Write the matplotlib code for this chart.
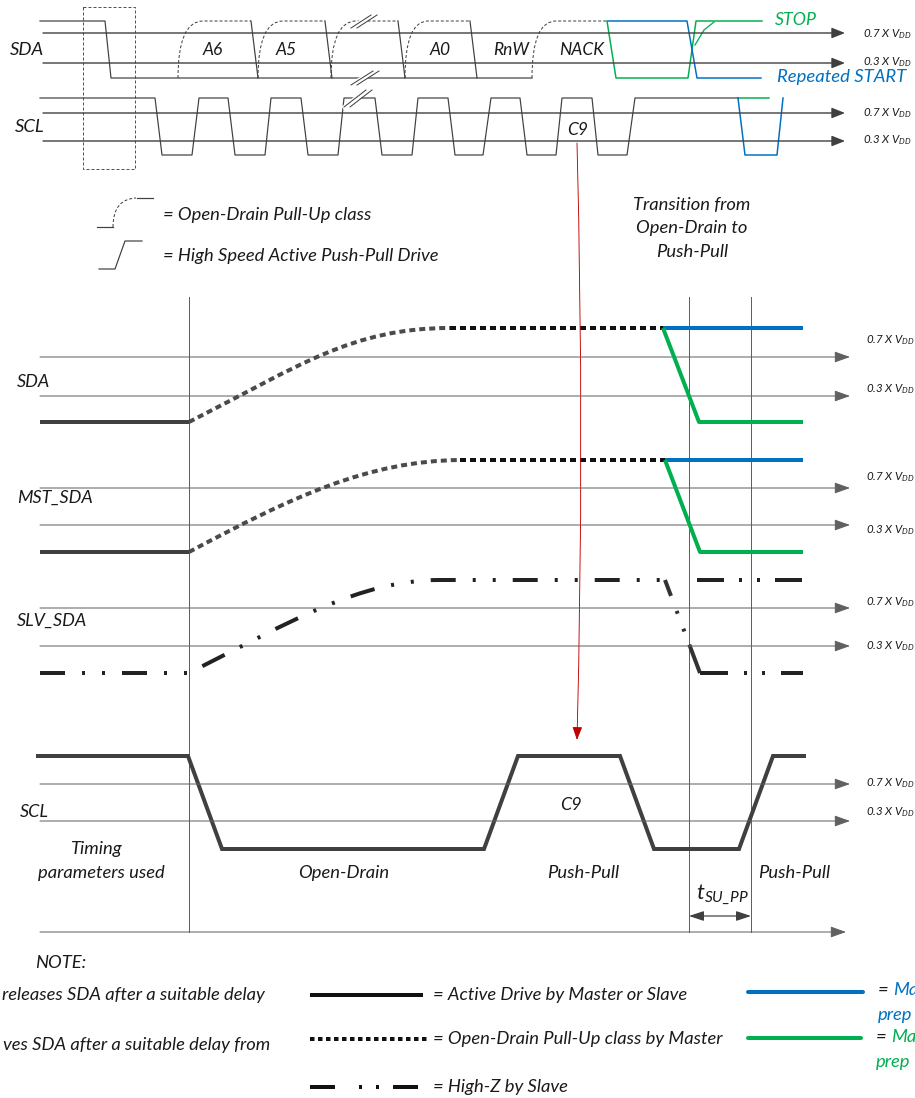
import matplotlib.pyplot as plt
from matplotlib.path import Path
from matplotlib.patches import PathPatch, Rectangle

plt.rcParams['font.family'] = ['Lato', 'DejaVu Sans']
plt.rcParams['font.style'] = 'italic'
plt.rcParams['mathtext.fontset'] = 'custom'
plt.rcParams['mathtext.it'] = 'Lato:italic'
plt.rcParams['mathtext.rm'] = 'Lato'
plt.rcParams['lines.scale_dashes'] = False

W, H = 915, 1098
PX = 0.72          # points per pixel (dpi 100)
GRAY = '#404040'
AXG = '#606060'
BLUE = '#0070C0'
GREEN = '#00B050'
RED = '#C00000'
VDD7 = '0.7 X $V_{DD}$'
VDD3 = '0.3 X $V_{DD}$'
FS = 13.2          # body text size

# ---------------- top overview (pixel rows / columns)
top_thr_y = [33, 63, 113, 141]
top_thr_lbl = [VDD7, VDD3, VDD7, VDD3]
top_lbl_y = [34, 62, 113, 140]

sda_x = [40, 105, 111, 532]
sda_y = [21, 21, 78, 78]
sda_fall_x = [251, 325, 398, 470]
od_rise_x = [178, 258, 331, 405, 532]
od_top_x = [203, 283, 356, 428, 556]
od_end_x = [251, 325, 398, 470, 607]
bit_names = ['A6', 'A5', 'A0', 'RnW', 'NACK']
bit_x = [213, 286, 440, 511, 582]

scl_x = [40, 155, 162, 192, 199, 228, 235, 265, 271, 301, 308, 338, 344, 375,
         382, 412, 418, 448, 455, 483, 491, 520, 527, 556, 562, 592, 598, 627,
         635, 738]
scl_y = [98, 98, 155, 155] * 7 + [98, 98]

stop_sda_x = [607, 616, 688, 696, 762]
stop_sda_y = [21, 78, 78, 21, 21]
rs_sda_x = [608, 687, 697, 761]
rs_sda_y = [21, 21, 78, 78]
rs_scl_x = [738, 745, 777, 783]
rs_scl_y = [98, 155, 155, 98]
stop_scl_x = [738, 769]
stop_scl_y = [98, 98]

# ---------------- detailed view
mid_thr_y = [357, 396, 488, 525, 608, 646, 784, 821]
mid_lbl_y = [340, 389, 477, 530, 602, 646, 783, 812]
mid_lbl = [VDD7, VDD3] * 4
vlines_x = [189, 689, 751]

sda_curve = [(189, 422), (299, 366), (352, 328), (450, 328)]
sda_flat_x = [450, 663]
mst_curve = [(189, 552), (292, 497), (368, 461), (460, 460)]
mst_flat_x = [460, 665]
slv_curve = [(189, 673), (290, 622), (360, 580), (440, 580)]

sda_blue = ([663, 803], [328, 328])
sda_green = ([663, 699, 803], [328, 422, 422])
mst_blue = ([665, 803], [460, 460])
mst_green = ([665, 700, 803], [460, 552, 552])
slv_fall = ([665, 700], [580, 673])
slv_low = ([700, 803], [673, 673])
slv_top = ([697, 803], [580, 580])

scl2_x = [38, 188, 222, 484, 518, 620, 654, 739, 773, 804]
scl2_y = [756, 756, 849, 849, 756, 756, 849, 849, 756, 756]

# ---------------- notes rows
note_rows = [995, 1039, 1087]
note_keys = ['= Active Drive by Master or Slave',
             '= Open-Drain Pull-Up class by Master',
             '= High-Z by Slave']

fig = plt.figure(figsize=(W / 100, H / 100), dpi=100)
ax = fig.add_axes([0, 0, 1, 1])
ax.set_xlim(0, W)
ax.set_ylim(H, 0)
ax.axis('off')


def dash(*d):
    return (0, tuple(v * PX for v in d))


def harrow(x0, x1, y, lw, color, hl=0.8, hw=0.32):
    ax.annotate('', xy=(x1, y), xytext=(x0, y),
                arrowprops=dict(arrowstyle=f'-|>,head_length={hl},head_width={hw}',
                                lw=lw * PX, color=color, shrinkA=0, shrinkB=0,
                                mutation_scale=10))


def path(verts, codes, color, lw, dashes=None, z=3):
    ls = '-' if dashes is None else dash(*dashes)
    ax.add_patch(PathPatch(Path(verts, codes), fill=False, edgecolor=color,
                           lw=lw * PX, linestyle=ls, zorder=z))


def txt(x, y, s, size=FS, color='#1a1a1a', ha='center', **kw):
    ax.text(x, y, s, fontsize=size, color=color, ha=ha, va='center', **kw)


# ===== top overview =====
for y, lb, ly in zip(top_thr_y, top_thr_lbl, top_lbl_y):
    harrow(43, 845, y, 1.4, GRAY)
    txt(863, ly, lb, 8.3, ha='left')

ax.plot(sda_x, sda_y, color=GRAY, lw=1.2 * PX)
for x in sda_fall_x:
    ax.plot([x, x + 7], [21, 78], color=GRAY, lw=1.2 * PX)
for xr, xt, xe in zip(od_rise_x, od_top_x, od_end_x):
    path([(xr, 78), (xr, 21), (xt, 21), (xe, 21)],
         [Path.MOVETO, Path.CURVE3, Path.CURVE3, Path.LINETO], GRAY, 1.0, (3, 2))
for b, x in zip(bit_names, bit_x):
    txt(x, 50, b, 12.5)

ax.plot(scl_x, scl_y, color=GRAY, lw=1.2 * PX)
ax.plot(stop_sda_x, stop_sda_y, color=GREEN, lw=1.5 * PX)
ax.plot(rs_sda_x, rs_sda_y, color=BLUE, lw=1.5 * PX)
ax.plot([695, 704, 714], [45, 30, 22], color=GREEN, lw=1.3 * PX)
ax.plot(stop_scl_x, stop_scl_y, color=GREEN, lw=1.5 * PX)
ax.plot(rs_scl_x, rs_scl_y, color=BLUE, lw=1.5 * PX)

# break marks
for (xa, ya, xb, yb) in [(355, 28, 375, 15), (355, 85, 377, 71), (348, 107, 370, 90)]:
    ax.plot([xa - 3, xb - 3], [ya, yb], color='white', lw=5 * PX, zorder=4)
    for d in (-4, 2):
        ax.plot([xa + d, xb + d], [ya, yb], color=GRAY, lw=1 * PX, zorder=5)

ax.add_patch(Rectangle((83, 7), 52, 162, fill=False, edgecolor=GRAY,
                       lw=0.9 * PX, linestyle=dash(3, 2)))
txt(10, 50, 'SDA', 13.3, ha='left')
txt(15, 127, 'SCL', 13.3, ha='left')
txt(578, 130, 'C9', 12.5)
txt(775, 20, 'STOP', 12.8, color=GREEN, ha='left')
txt(777, 77, 'Repeated START', 13.3, color=BLUE, ha='left')

# red pointer
ax.annotate('', xy=(577, 740), xytext=(577, 143),
            arrowprops=dict(arrowstyle='-|>,head_length=0.8,head_width=0.3',
                            color=RED, lw=0.9 * PX, shrinkA=0, shrinkB=0,
                            mutation_scale=10, connectionstyle='arc3,rad=-0.013'))

# key for edge shapes
ax.plot([97, 113], [227, 227], color=GRAY, lw=1.2 * PX)
path([(113, 227), (113, 199), (136, 198)], [Path.MOVETO, Path.CURVE3, Path.CURVE3],
     GRAY, 1.0, (3, 2))
ax.plot([137, 153], [198, 198], color=GRAY, lw=1.2 * PX)
ax.plot([99, 115, 125, 142], [269, 269, 241, 241], color=GRAY, lw=1.2 * PX)
txt(163, 215, '= Open-Drain Pull-Up class', ha='left')
txt(163, 256, '= High Speed Active Push-Pull Drive', ha='left')
for i, s in enumerate(['Transition from', 'Open-Drain to', 'Push-Pull']):
    txt(692, 205 + 23.5 * i, s)

# ===== detailed view =====
for x in vlines_x:
    ax.plot([x, x], [297, 932], color=AXG, lw=1 * PX, zorder=2)
for y, lb, ly in zip(mid_thr_y, mid_lbl, mid_lbl_y):
    harrow(40, 850, y, 1.0, AXG, hl=0.95, hw=0.34)
    txt(866, ly, lb, 8.3, ha='left')
harrow(40, 846, 932, 1.0, AXG, hl=0.95, hw=0.34)

LW = 4
for cur, flat_x, c_open in [(sda_curve, sda_flat_x, 422), (mst_curve, mst_flat_x, 552)]:
    ax.plot([40, 189], [c_open, c_open], color=GRAY, lw=LW * PX, solid_capstyle='butt')
    path(cur, [Path.MOVETO, Path.CURVE4, Path.CURVE4, Path.CURVE4], '#4a4a4a', LW, (6, 4))
    ax.plot(flat_x, [cur[-1][1]] * 2, color='#111111', lw=LW * PX, linestyle=dash(6, 4))
for (xs, ys), col in [(sda_blue, BLUE), (sda_green, GREEN), (mst_blue, BLUE), (mst_green, GREEN)]:
    ax.plot(xs, ys, color=col, lw=LW * PX, solid_capstyle='butt', zorder=4)

path([(40, 673), (189, 673)] + slv_curve[1:] + [(665, 580)],
     [Path.MOVETO, Path.LINETO, Path.CURVE4, Path.CURVE4, Path.CURVE4, Path.LINETO],
     '#222222', LW, (25, 17, 3, 17, 3, 17))
ax.plot(*slv_fall, color='#333333', lw=LW * PX, linestyle=dash(17, 16, 3, 16, 3, 14, 40, 10))
ax.plot(*slv_low, color='#222222', lw=LW * PX, linestyle=dash(28, 16, 3, 15, 3, 16))
ax.plot(*slv_top, color='#222222', lw=LW * PX, linestyle=dash(27, 15, 3, 15, 3, 15))

ax.plot(scl2_x, scl2_y, color=GRAY, lw=LW * PX, solid_joinstyle='miter')

txt(17, 382, 'SDA', 13, ha='left')
txt(17, 498, 'MST_SDA', 13, ha='left')
txt(17, 621, 'SLV_SDA', 13, ha='left')
txt(20, 812, 'SCL', 13, ha='left')
txt(571, 805, 'C9', 13)
txt(97, 849, 'Timing')
txt(101, 873, 'parameters used')
txt(344, 873, 'Open-Drain')
txt(583, 873, 'Push-Pull')
txt(794, 873, 'Push-Pull')
txt(722, 894, r'$\mathrm{t}_{SU\_PP}$', 16)
ax.annotate('', xy=(751, 916), xytext=(689, 916),
            arrowprops=dict(arrowstyle='<|-|>,head_length=0.9,head_width=0.3',
                            color=GRAY, lw=1.2 * PX, shrinkA=0, shrinkB=0,
                            mutation_scale=10))

# ===== notes / legend =====
txt(35, 963, 'NOTE:', ha='left')
txt(265, 995, 'releases SDA after a suitable delay', ha='right')
txt(270, 1045, 'ves SDA after a suitable delay from', ha='right')
r1, r2, r3 = note_rows
ax.plot([310, 423], [r1, r1], color='#111111', lw=LW * PX, solid_capstyle='butt')
ax.plot([310, 428], [r2, r2], color='#111111', lw=LW * PX, linestyle=dash(4.5, 3.5))
ax.plot([310, 420], [r3, r3], color='#111111', lw=LW * PX,
        linestyle=dash(25, 24, 3, 14, 3, 14))
for y, s in zip(note_rows, note_keys):
    txt(433, y, s, ha='left')
ax.plot([748, 863], [992, 992], color=BLUE, lw=LW * PX, solid_capstyle='round')
ax.plot([748, 861], [1038, 1038], color=GREEN, lw=LW * PX, solid_capstyle='round')
# these two notes run off the right edge in the original; only the visible part is kept
txt(878, 990, '=', ha='left')
txt(893, 990, 'Ma', color=BLUE, ha='left')
txt(878, 1015, 'prep', color=BLUE, ha='left')
txt(876, 1037, '=', ha='left')
txt(891, 1037, 'Ma', color=GREEN, ha='left')
txt(876, 1062, 'prep', color=GREEN, ha='left')

fig.savefig('out.png', dpi=100)
